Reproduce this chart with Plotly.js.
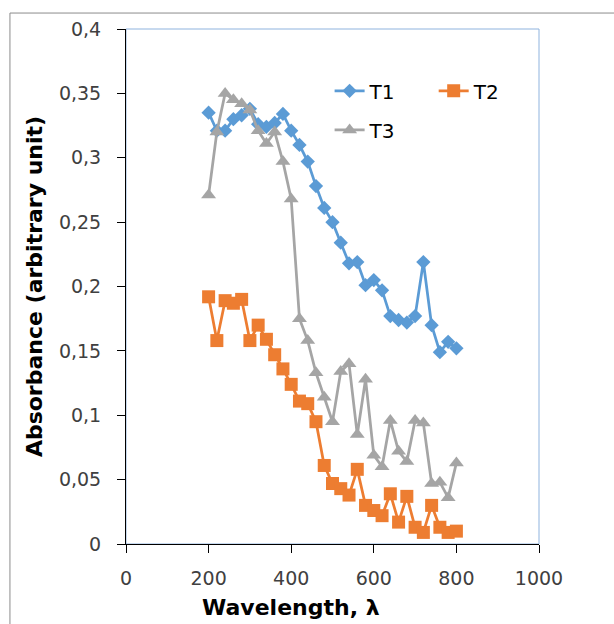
<!DOCTYPE html>
<html>
<head>
<meta charset="utf-8">
<script src="https://cdn.plot.ly/plotly-3.0.1.min.js"></script>
<style>
html,body{margin:0;padding:0;background:#fff;}
#chart{width:614px;height:624px;}
</style>
</head>
<body>
<div id="chart"></div>
<script>
var wavelength = [200,220,240,260,280,300,320,340,360,380,400,420,440,460,480,500,520,540,560,580,600,620,640,660,680,700,720,740,760,780,800];
var t1 = [0.335,0.321,0.321,0.330,0.333,0.338,0.326,0.324,0.327,0.334,0.321,0.310,0.297,0.278,0.261,0.250,0.234,0.218,0.219,0.201,0.205,0.197,0.177,0.174,0.172,0.177,0.219,0.170,0.149,0.157,0.152];
var t2 = [0.192,0.158,0.189,0.187,0.190,0.158,0.170,0.159,0.147,0.136,0.124,0.111,0.109,0.095,0.061,0.047,0.043,0.038,0.058,0.030,0.026,0.022,0.039,0.017,0.037,0.013,0.009,0.030,0.013,0.009,0.010];
var t3 = [0.271,0.320,0.350,0.345,0.342,0.337,0.321,0.311,0.320,0.297,0.268,0.175,0.158,0.133,0.114,0.095,0.134,0.140,0.085,0.128,0.069,0.060,0.096,0.072,0.064,0.096,0.094,0.047,0.048,0.036,0.063];
var seriesNames = ['T1','T2','T3'];
var yTickVals = [0,0.05,0.1,0.15,0.2,0.25,0.3,0.35,0.4];
var yTickText = ['0','0,05','0,1','0,15','0,2','0,25','0,3','0,35','0,4'];
var xTickVals = [0,200,400,600,800,1000];
var xTickText = ['0','200','400','600','800','1000'];

var FONT = '"DejaVu Sans", "Liberation Sans", sans-serif';

var traces = [
  {x: wavelength, y: t1, name: seriesNames[0], type: 'scatter', mode: 'lines+markers',
   line: {color: '#5B9BD5', width: 2.75},
   marker: {symbol: 'diamond', size: 11, color: '#5B9BD5', line: {width: 0}},
   legend: 'legend'},
  {x: wavelength, y: t2, name: seriesNames[1], type: 'scatter', mode: 'lines+markers',
   line: {color: '#ED7D31', width: 2.75},
   marker: {symbol: 'square', size: 13, color: '#ED7D31', line: {width: 0}},
   legend: 'legend2'},
  {x: wavelength, y: t3, name: seriesNames[2], type: 'scatter', mode: 'lines+markers',
   line: {color: '#A5A5A5', width: 2.75},
   marker: {symbol: 'triangle-up', size: 13, color: '#A5A5A5', line: {width: 0}},
   legend: 'legend3'}
];

function legendAt(x, y) {
  return {x: x, y: y, xanchor: 'left', yanchor: 'middle', bgcolor: 'rgba(0,0,0,0)',
          borderwidth: 0, font: {family: FONT, size: 20, color: '#000'}};
}

var layout = {
  width: 614, height: 624,
  margin: {l: 126, r: 75, t: 29, b: 80, pad: 0},
  paper_bgcolor: '#fff', plot_bgcolor: '#fff',
  font: {family: FONT, size: 19, color: '#404040'},
  showlegend: true,
  legend: legendAt(0.493, 0.880),
  legend2: legendAt(0.745, 0.880),
  legend3: legendAt(0.493, 0.804),
  xaxis: {
    range: [0, 1000], tickvals: xTickVals, ticktext: xTickText,
    showgrid: false, zeroline: false, showline: true, linecolor: '#000', linewidth: 1,
    ticks: 'outside', ticklen: 8, tickcolor: '#000', ticklabelstandoff: 9,
    tickfont: {family: FONT, size: 19, color: '#404040'}, fixedrange: true
  },
  yaxis: {
    range: [0, 0.4], tickvals: yTickVals, ticktext: yTickText,
    showgrid: false, zeroline: false, showline: true, linecolor: '#000', linewidth: 1,
    ticks: 'outside', ticklen: 8, tickcolor: '#000', ticklabelstandoff: 12,
    tickfont: {family: FONT, size: 19, color: '#404040'},
    title: {text: 'Absorbance (arbitrary unit)', standoff: 10,
            font: {family: FONT, size: 22, color: '#000', weight: 'bold'}},
    fixedrange: true
  },
  annotations: [
    {text: 'Wavelength, λ', xref: 'paper', yref: 'paper', x: 0.399, y: -0.124,
     xanchor: 'center', yanchor: 'middle', showarrow: false,
     font: {family: FONT, size: 22, color: '#000', weight: 'bold'}}
  ],
  shapes: [
    {type: 'rect', xref: 'paper', yref: 'paper', x0: 0, x1: 1, y0: 0, y1: 1,
     line: {color: '#8FB3DE', width: 1}, layer: 'below'},
    {type: 'rect', xref: 'paper', yref: 'paper', x0: -0.281, x1: 1.5, y0: -0.5, y1: 1.031,
     line: {color: '#8C8C8C', width: 1}, layer: 'below'}
  ]
};

Plotly.newPlot('chart', traces, layout, {displayModeBar: false, staticPlot: true});
</script>
</body>
</html>
